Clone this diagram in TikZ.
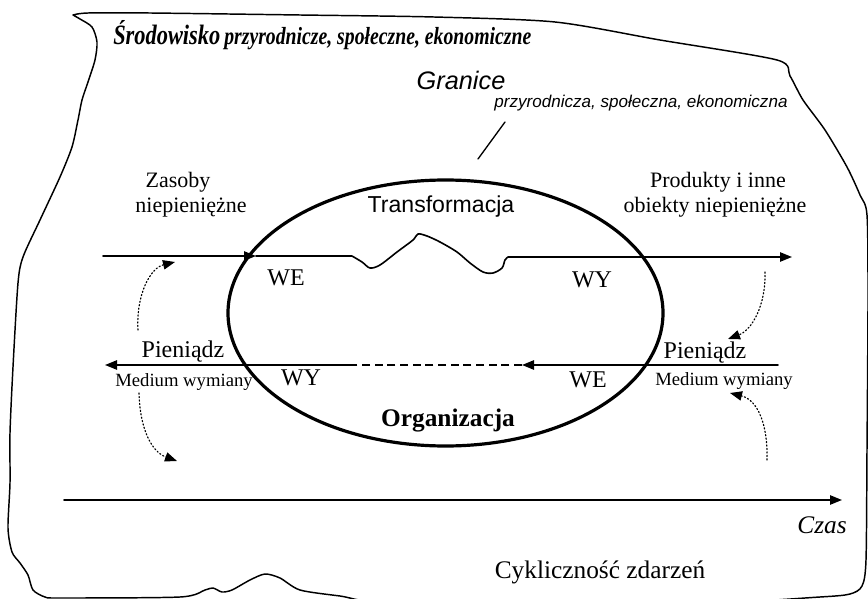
\documentclass[tikz,border=0pt]{standalone}
\usepackage{fontspec}
\usepackage{graphicx}
\setmainfont{Liberation Serif}
\newfontfamily\arialfont{Liberation Sans}
\usetikzlibrary{arrows.meta,calc}

\begin{document}
\begin{tikzpicture}[x=0.75pt, y=-0.75pt, >={Triangle[length=9pt,width=7pt]},
    line cap=round, line join=round,
    flow/.style={line width=1.2pt},
    cyc/.style={line width=0.9pt, dash pattern=on 0.9pt off 1.7pt},
    lab/.style={inner sep=0pt, font=\fontsize{16.5}{18}\selectfont},
    big/.style={inner sep=0pt, font=\fontsize{18}{20}\selectfont},
    small/.style={inner sep=0pt, font=\fontsize{14}{16}\selectfont}]

  \useasboundingbox (0,0) rectangle (868,599);

  %--- Environment border (hand drawn) -------------------------------------
  \draw[line width=1.1pt] (73,15) -- plot[smooth, tension=0.45] coordinates {
      (73,15) (88,13) (150,13) (300,15) (434,17) (555,22) (660,40)
      (777,60) (790,76) (803,100) (825,130) (847,167) (860,195) (867,215)
      (868,300) (867,450) (866,560) (862,586) (850,594) (820,597)
      (700,603) (400,603) (340,596) (300,590) (280,578) (265,574)
      (250,580) (232,590) (222,592) (213,588) (205,590) (180,597)
      (60,598) (45,597) (33,590) (28,575) (20,563) (12,552) (8,528)
      (10,483) (10,433) (13,367) (18,283) (23,257) (40,220) (60,177)
      (72,147) (78,120) (82,100) (88,82) (95,60) (97,42) (92,27) (80,19)
      (73,15)};

  %--- Coordinates of flows ------------------------------------------------
  \coordinate (Zin)  at (103,256);
  \coordinate (Zend) at (256,256);
  \coordinate (Tl)   at (352,256);
  \coordinate (Pend) at (792,257);
  \coordinate (Mr)   at (778,365);
  \coordinate (Mtip) at (522,365);
  \coordinate (Md)   at (350,365);
  \coordinate (Mend) at (105,365);
  \coordinate (T0)   at (64,500);
  \coordinate (T1)   at (842,500);
  \coordinate (Gp0)  at (505,122);
  \coordinate (Gp1)  at (478,159);

  %--- Organization (ellipse) ----------------------------------------------
  \draw[line width=2.4pt] (445.5,313) ellipse [x radius=217.5, y radius=133];

  %--- Non-monetary flow with transformation -------------------------------
  \draw[flow,->] (Zin) -- (Zend);
  \draw[flow,->] (Zend) -- (Tl) -- plot[smooth, tension=0.5] coordinates {
      (352,256) (362,262) (370,268) (380,265) (397,252) (413,240)
      (418,234) (427,236) (440,242) (457,252) (470,263) (483,272)
      (493,273) (502,268) (505,260) (508,257)} -- (Pend);

  %--- Money flow ----------------------------------------------------------
  \draw[flow,->] (Mr) -- (Mtip);
  \draw[flow, dash pattern=on 6pt off 3.5pt, line cap=butt] (Mtip) -- (Md);
  \draw[flow,->] (Md) -- (Mend);

  %--- Exchange cycles (dotted) --------------------------------------------
  \draw[cyc,->] (138,330) .. controls (136,295) and (150,268) .. (175,262);
  \draw[cyc,->] (139,393) .. controls (140,430) and (152,452) .. (177,461);
  \draw[cyc,->] (765,272) .. controls (766,305) and (752,330) .. (728,339);
  \draw[cyc,->] (767,460) .. controls (768,425) and (758,400) .. (730,393);

  %--- Time axis -----------------------------------------------------------
  \draw[flow,->] (T0) -- (T1);

  %--- Boundary pointer ----------------------------------------------------
  \draw[line width=1pt] (Gp0) -- (Gp1);

  %--- Labels --------------------------------------------------------------
  \node[anchor=base west, inner sep=0pt] (srod) at (113,45)
    {\scalebox{0.8}[1]{\fontsize{21}{24}\selectfont\bfseries\itshape Środowisko}%
     \hspace{3pt}\scalebox{0.8}[1]{\fontsize{18.5}{20}\selectfont\bfseries\itshape
     przyrodnicze, społeczne, ekonomiczne}};
  \node[inner sep=0pt, font=\arialfont\itshape\fontsize{19}{21}\selectfont]
    (gran) at (461,80) {Granice};
  \node[inner sep=0pt, font=\arialfont\itshape\fontsize{12.8}{14}\selectfont]
    (granSub) at (641,103) {przyrodnicza, społeczna, ekonomiczna};

  \node[lab] (zas)  at (178,182) {Zasoby};
  \node[lab] (niep) at (191,208) {niepieniężne};
  \node[lab] (prod) at (718,182) {Produkty i inne};
  \node[lab] (obie) at (715,207) {obiekty niepieniężne};
  \node[inner sep=0pt, font=\arialfont\fontsize{17.3}{19}\selectfont]
    (trans) at (441,207) {Transformacja};

  \node[big] (weT) at (286,278) {WE};
  \node[big] (wyT) at (592,280) {WY};
  \node[big] (wyB) at (301,378) {WY};
  \node[big] (weB) at (588,380) {WE};

  \node[big]   (pienL) at (183,352) {Pieniądz};
  \node[small] (medL)  at (184,382) {Medium wymiany};
  \node[big]   (pienR) at (705,353) {Pieniądz};
  \node[small] (medR)  at (724,381) {Medium wymiany};

  \node[inner sep=0pt, font=\fontsize{19}{21}\selectfont\bfseries]
    (org) at (448,421) {Organizacja};

  \node[inner sep=0pt, font=\fontsize{19}{21}\selectfont\itshape]
    (czas) at (822,525) {Czas};
  \node[inner sep=0pt, font=\fontsize{19}{21}\selectfont]
    (cykl) at (600,572) {Cykliczność zdarzeń};

\end{tikzpicture}
\end{document}
